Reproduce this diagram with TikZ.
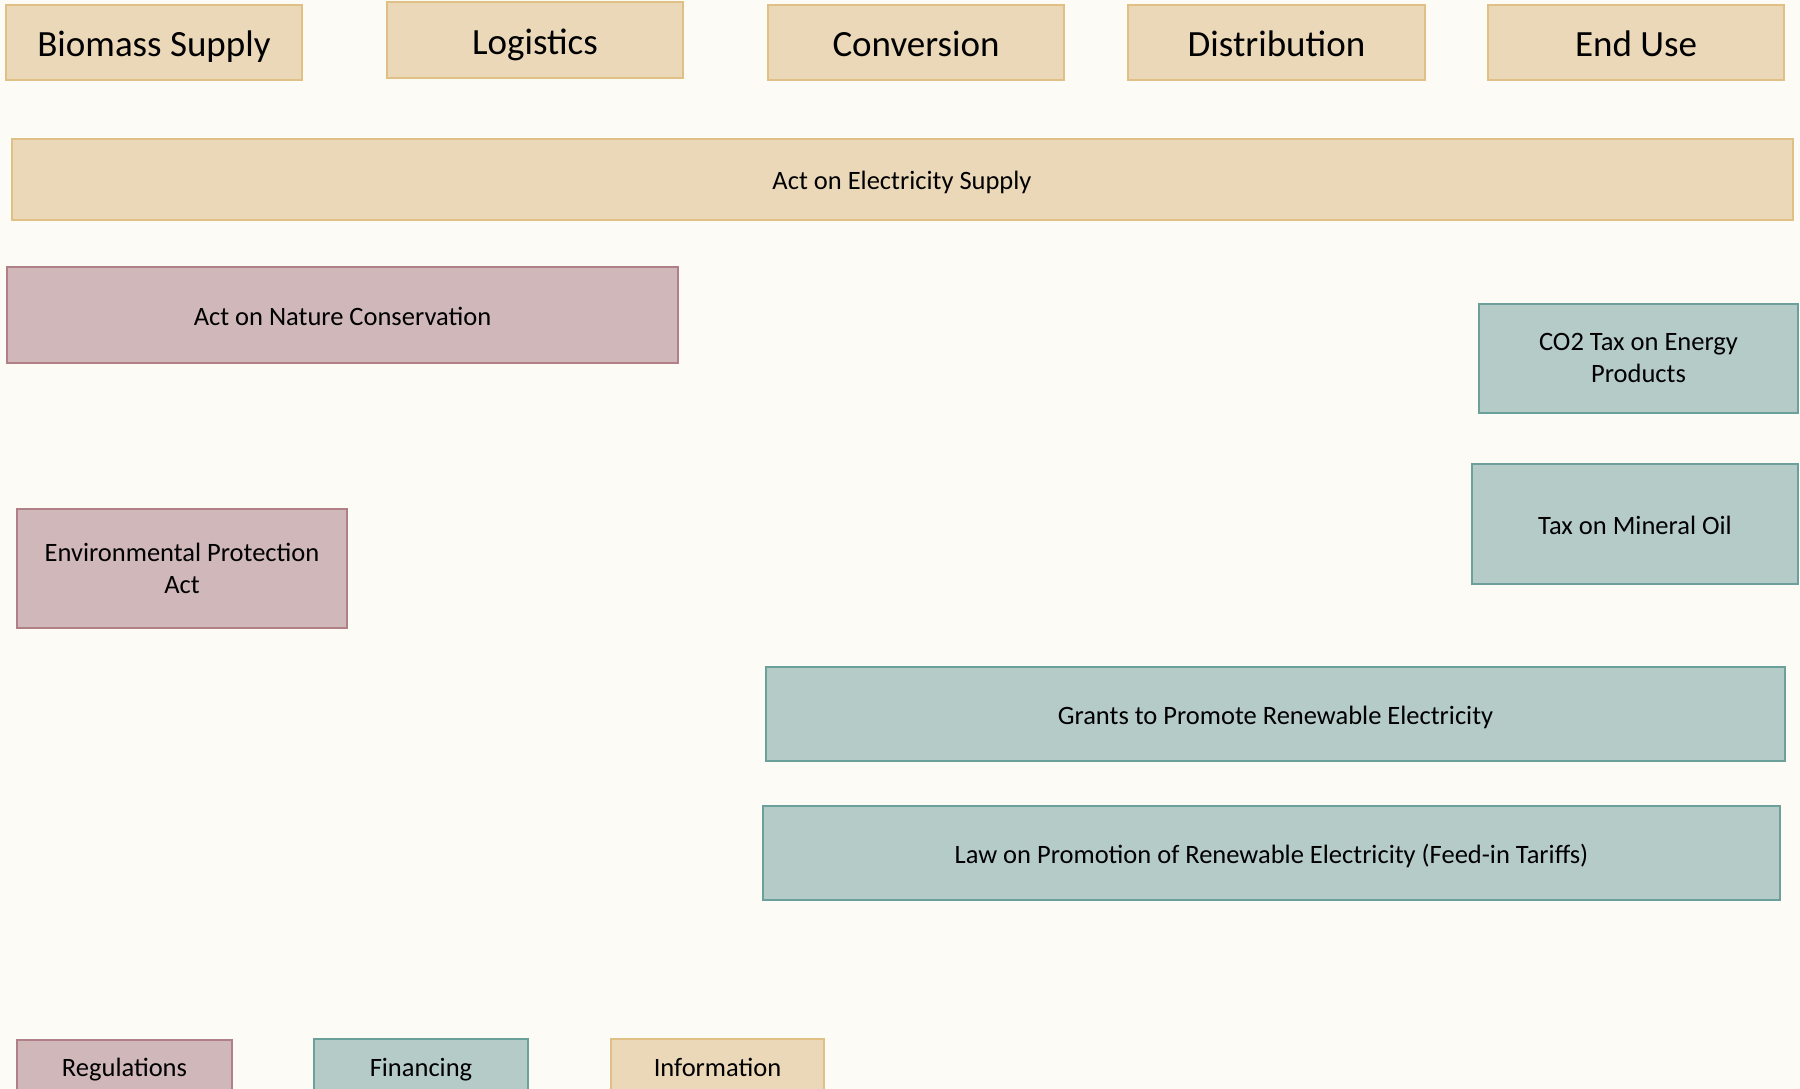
\documentclass[tikz,border=0pt]{standalone}
\usepackage{fontspec}
\setmainfont{Carlito}
\definecolor{bgc}{RGB}{252,251,246}
\definecolor{tanfill}{RGB}{235,216,185}
\definecolor{tanline}{RGB}{224,192,132}
\definecolor{pinkfill}{RGB}{207,183,186}
\definecolor{pinkline}{RGB}{176,128,134}
\definecolor{tealfill}{RGB}{181,203,200}
\definecolor{tealline}{RGB}{108,160,155}
\tikzset{
  box/.style={draw, line width=2pt, inner sep=0pt, align=center, font=\fontsize{26.5}{32}\selectfont, text=black},
  one/.style={text height=20pt, text depth=0pt},
  head/.style={box, fill=tanfill, draw=tanline, font=\fontsize{37}{44}\selectfont, text height=27.5pt, text depth=0pt},
  info/.style={box, fill=tanfill, draw=tanline},
  regu/.style={box, fill=pinkfill, draw=pinkline},
  fina/.style={box, fill=tealfill, draw=tealline},
}
\begin{document}
\begin{tikzpicture}[x=1pt,y=-1pt]
\path[fill=bgc] (0,0) rectangle (1800,1089);
\useasboundingbox (0,0) rectangle (1800,1089);
\node[head, minimum width=296pt, minimum height=75pt] (bio) at (154,43) {Biomass Supply};
\node[head, minimum width=296pt, minimum height=76pt] (log) at (535,40.5) {Logistics};
\node[head, minimum width=296pt, minimum height=75pt] (conv) at (916,43) {Conversion};
\node[head, minimum width=297pt, minimum height=75pt] (dist) at (1276.5,43) {Distribution};
\node[head, minimum width=296pt, minimum height=75pt] (enduse) at (1636,43) {End Use};
\node[info, one, minimum width=1781pt, minimum height=81pt] (elec) at (902,179.5) {Act on Electricity Supply};
\node[regu, one, minimum width=671pt, minimum height=95.5pt] (nature) at (342.5,315) {Act on Nature Conservation};
\node[fina, minimum width=319pt, minimum height=109pt] (co2) at (1638.5,358) {CO2 Tax on Energy\\Products};
\node[fina, one, minimum width=326pt, minimum height=120pt] (oil) at (1635,524) {Tax on Mineral Oil};
\node[regu, minimum width=330pt, minimum height=119.5pt] (env) at (182,568.5) {Environmental Protection\\Act};
\node[fina, one, minimum width=1019pt, minimum height=94pt] (grants) at (1275.5,714) {Grants to Promote Renewable Electricity};
\node[fina, one, minimum width=1017pt, minimum height=94pt] (law) at (1271.5,853) {Law on Promotion of Renewable Electricity (Feed-in Tariffs)};
\node[regu, one, minimum width=215pt, minimum height=52pt] (reg) at (124.5,1066) {Regulations};
\node[fina, one, minimum width=213.5pt, minimum height=54pt] (fin) at (421,1066) {Financing};
\node[info, one, minimum width=213pt, minimum height=54pt] (inf) at (717.5,1066) {Information};
\end{tikzpicture}
\end{document}
